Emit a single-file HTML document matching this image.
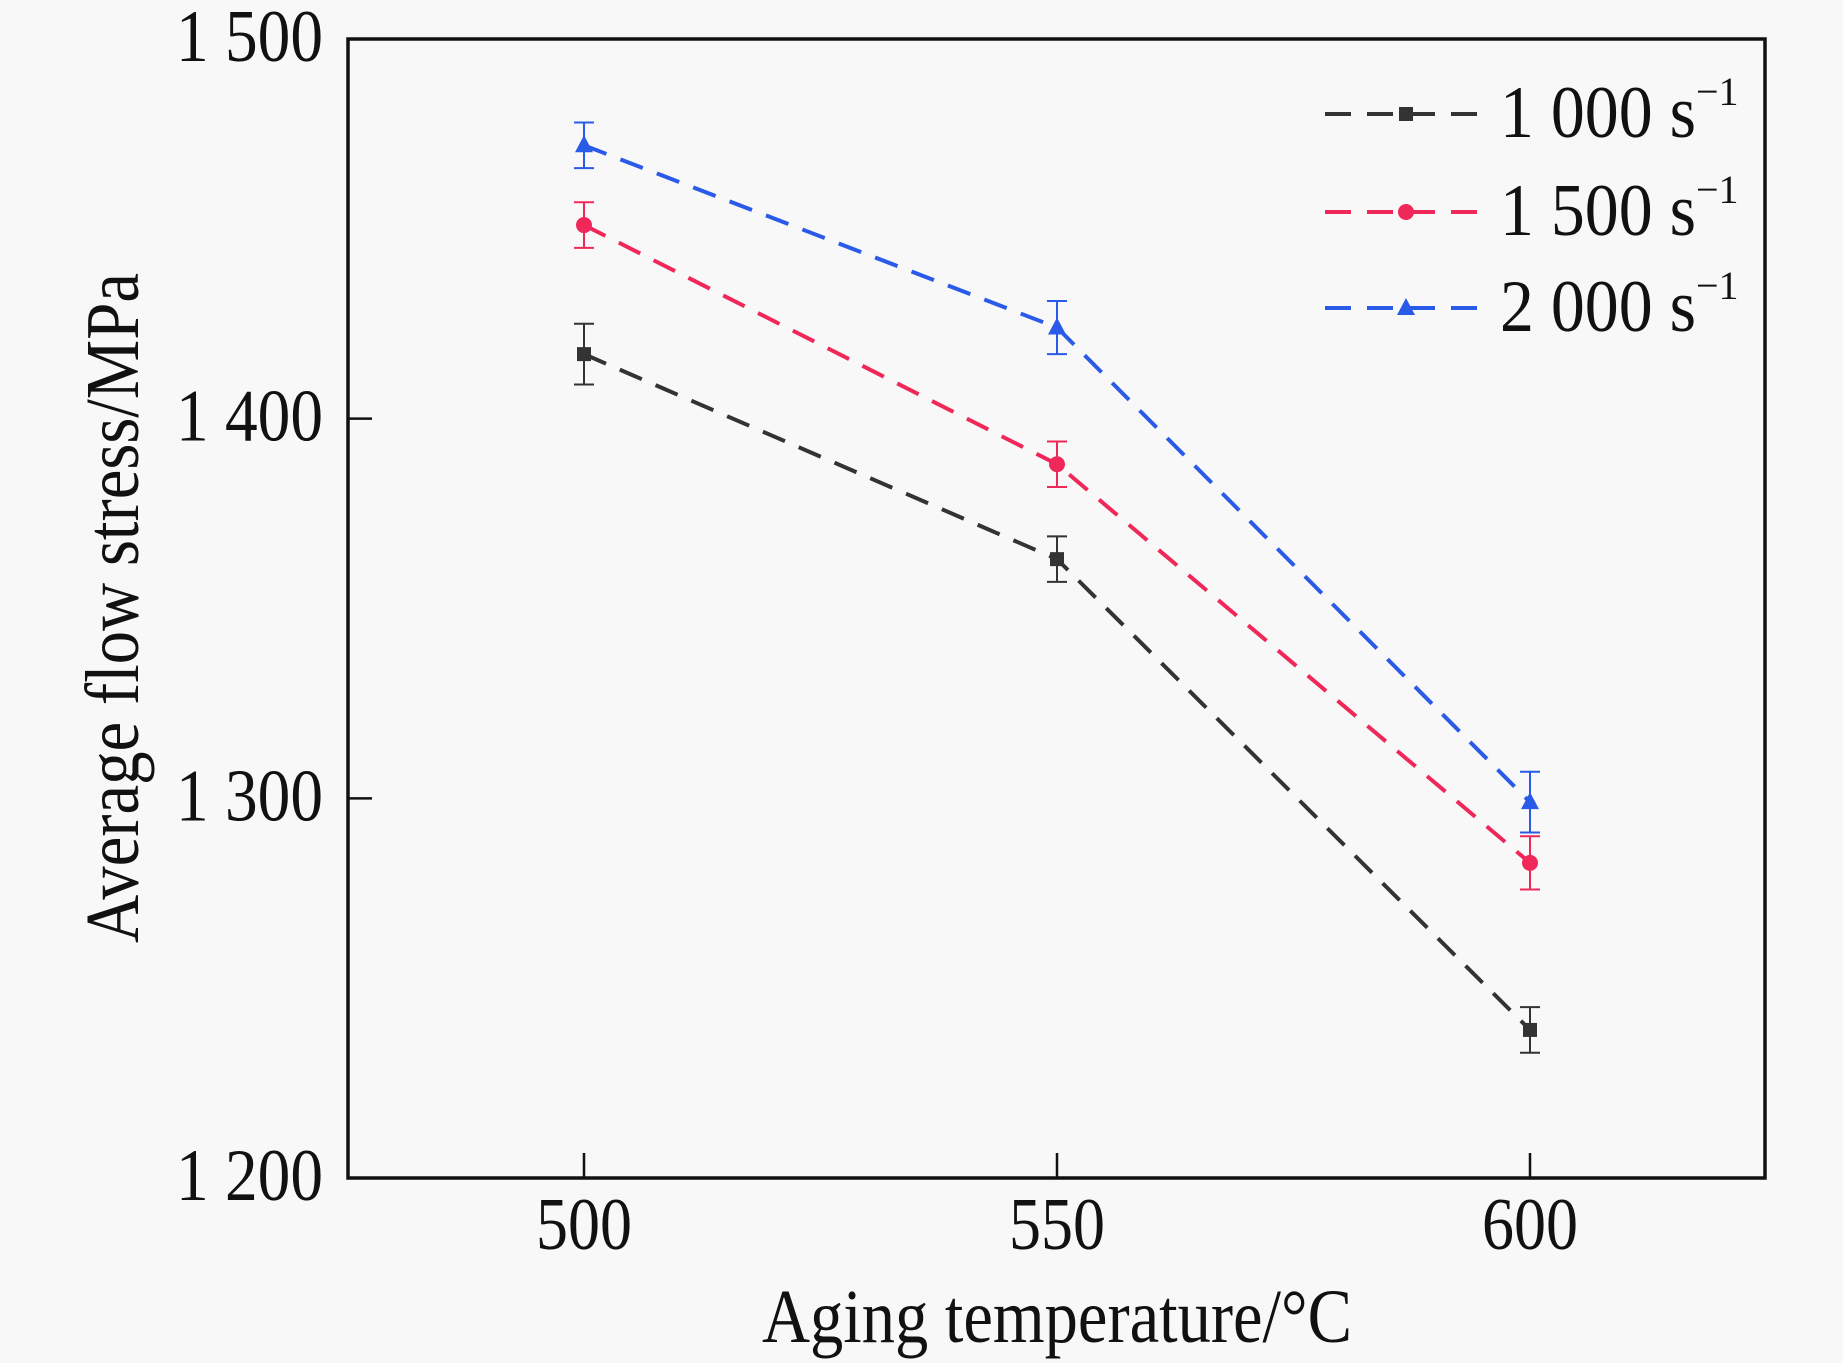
<!DOCTYPE html>
<html><head><meta charset="utf-8"><style>
html,body{margin:0;padding:0;background:#f8f8f8;}
svg{display:block;font-family:"Liberation Serif",serif;}
</style></head><body>
<svg id="chart" width="1843" height="1363" viewBox="0 0 1843 1363" xmlns="http://www.w3.org/2000/svg">
<rect width="1843" height="1363" fill="#f8f8f8"/>
<g id="plot"></g>
</svg>
<script>
const categories=[500,550,600];
const s1000=[1417,1363,1239];
const e1000=[8,6,6];
const s1500=[1451,1388,1283];
const e1500=[6,6,7];
const s2000=[1472,1424,1299];
const e2000=[6,7,8];
const yTicks=[1200,1300,1400,1500];
const yTickLabels=["1 200","1 300","1 400","1 500"];
const xTickLabels=["500","550","600"];
const seriesNames=["1 000 s","1 500 s","2 000 s"];

const L=348,R=1765,T=39,B=1178;
function xs(v){return 584+(v-500)/50*(1057-584);}
function ys(v){return B-(v-1200)/300*(B-T);}
const NS="http://www.w3.org/2000/svg";
const g=document.getElementById('plot');
function mk(tag,attrs,parent){const e=document.createElementNS(NS,tag);for(const k in attrs)e.setAttribute(k,attrs[k]);(parent||g).appendChild(e);return e;}

let frame=mk('rect',{x:L,y:T,width:R-L,height:B-T,fill:'none',stroke:'#111','stroke-width':3.5});



yTicks.forEach((v,i)=>{
  const t=mk('line',{x1:L,x2:L+24,y1:ys(v),y2:ys(v),stroke:'#111','stroke-width':2.5});
  
  
  const tx=mk('text',{x:323,y:ys(v)+22,'font-size':74,'text-anchor':'end',fill:'#111',textLength:147,lengthAdjust:'spacingAndGlyphs'});
  tx.textContent=yTickLabels[i];
  
  
});
categories.forEach((v,i)=>{
  const t=mk('line',{x1:xs(v),x2:xs(v),y1:B,y2:B-25,stroke:'#111','stroke-width':2.5});
  
  
  const tx=mk('text',{x:xs(v),y:1249,'font-size':74,'text-anchor':'middle',fill:'#111',textLength:96,lengthAdjust:'spacingAndGlyphs'});
  tx.textContent=xTickLabels[i];
  
  
});
let xt=mk('text',{x:1057,y:1342,'font-size':76,'text-anchor':'middle',fill:'#111',textLength:590,lengthAdjust:'spacingAndGlyphs'});
xt.textContent='Aging temperature/°C';


let yt=mk('text',{x:0,y:0,'font-size':76,'text-anchor':'middle',fill:'#111',textLength:670,lengthAdjust:'spacingAndGlyphs',transform:'translate(138,608) rotate(-90)'});
yt.textContent='Average flow stress/MPa';



function marker(type,x,y,c,parent){
  let m;
  if(type==='square') m=mk('rect',{x:x-7,y:y-7,width:14,height:14,fill:c},parent);
  else if(type==='circle') m=mk('circle',{cx:x,cy:y,r:8,fill:c},parent);
  else m=mk('polygon',{points:`${x},${y-10} ${x-9},${y+7} ${x+9},${y+7}`,fill:c},parent);
  return m;
}
const series=[[s1000,e1000,'#333333','square'],[s1500,e1500,'#f0285a','circle'],[s2000,e2000,'#2a5be8','triangle']];
series.forEach((s,si)=>{
  const [vals,errs,c,mt]=s;
  const sg=mk('g',{});
  
  
  const pts=vals.map((v,i)=>xs(categories[i])+','+ys(v)).join(' ');
  const pl=mk('polyline',{points:pts,fill:'none',stroke:c,'stroke-width':4,'stroke-dasharray':'24,15'},sg);
  
  
  vals.forEach((v,i)=>{
    const x=xs(categories[i]);
    const eb=mk('path',{d:`M${x},${ys(v+errs[i])}V${ys(v-errs[i])}M${x-10},${ys(v+errs[i])}h20M${x-10},${ys(v-errs[i])}h20`,stroke:c,'stroke-width':2,fill:'none'},sg);
    
    
    const m=marker(mt,x,ys(v),c,sg);
    
    
  });
  const ly=[114,212,308][si];
  const lg=mk('g',{});
  
  
  mk('line',{x1:1325,x2:1485,y1:ly,y2:ly,stroke:c,'stroke-width':4,'stroke-dasharray':'26,16'},lg);
  marker(mt,1406,ly,c,lg);
  const tx=mk('text',{x:1500,y:ly+23,'font-size':74,fill:'#111'},lg);
  const main=mk('tspan',{textLength:196,lengthAdjust:'spacingAndGlyphs'},tx);
  main.textContent=seriesNames[si];
  const sup=mk('tspan',{dy:-32,'font-size':40},tx);
  sup.textContent='−1';
});
</script>
</body></html>
